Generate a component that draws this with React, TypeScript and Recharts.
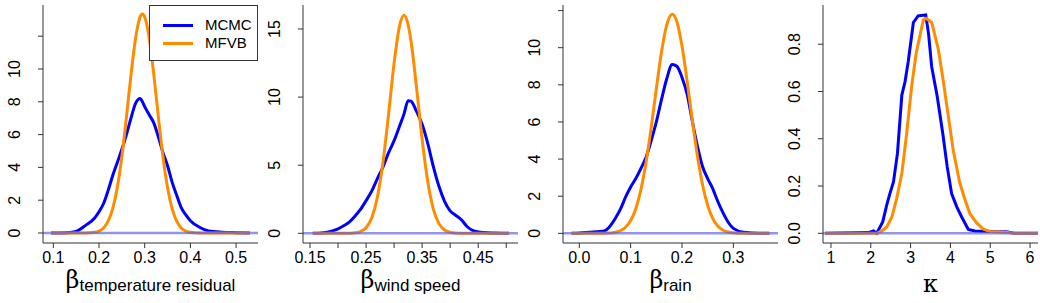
import { LineChart, Line, XAxis, YAxis, ReferenceLine } from 'recharts';

const SANS = '"Liberation Sans", Arial, Helvetica, sans-serif';
const SERIF = '"DejaVu Serif", "Liberation Serif", serif';
const BLUE = '#0000ff';
const ORANGE = '#ff8c00';
const AXIS = '#333333';

// beta temperature residual
const tempX = [0.095, 0.13, 0.15, 0.17, 0.19, 0.2, 0.21, 0.22, 0.23, 0.24, 0.25, 0.26, 0.27, 0.28, 0.29, 0.295, 0.3, 0.31, 0.32, 0.33, 0.34, 0.35, 0.36, 0.37, 0.38, 0.39, 0.4, 0.42, 0.44, 0.47, 0.5, 0.53];
const tempMcmc = [0, 0.02, 0.1, 0.45, 0.9, 1.3, 1.8, 2.6, 3.5, 4.3, 5.1, 6.0, 7.0, 7.9, 8.2, 8.0, 7.7, 7.2, 6.7, 5.85, 4.9, 4.1, 3.1, 2.3, 1.55, 1.1, 0.75, 0.35, 0.12, 0.05, 0.02, 0];
const tempMfvb = [0, 0, 0, 0, 0.04, 0.12, 0.31, 0.72, 1.48, 2.77, 4.65, 7.06, 9.64, 11.87, 13.18, 13.35, 13.18, 11.87, 9.64, 7.06, 4.65, 2.77, 1.48, 0.72, 0.31, 0.12, 0.04, 0, 0, 0, 0, 0];
const tempXTicks = [0.1, 0.2, 0.3, 0.4, 0.5];
const tempXLabels = ['0.1', '0.2', '0.3', '0.4', '0.5'];
const tempYTicks = [0, 2, 4, 6, 8, 10, 12];
const tempYLabels = ['0', '2', '4', '6', '8', '10', ''];

// beta wind speed
const windX = [0.155, 0.17, 0.19, 0.2, 0.21, 0.22, 0.23, 0.24, 0.25, 0.26, 0.27, 0.28, 0.29, 0.3, 0.31, 0.3176, 0.325, 0.33, 0.34, 0.35, 0.36, 0.37, 0.38, 0.39, 0.4, 0.41, 0.42, 0.43, 0.44, 0.46, 0.48, 0.505];
const windMcmc = [0, 0.03, 0.18, 0.33, 0.55, 0.82, 1.25, 1.75, 2.4, 3.1, 4.0, 4.85, 5.9, 6.8, 7.9, 8.75, 9.74, 9.7, 8.95, 8.0, 6.6, 4.9, 3.45, 2.35, 1.65, 1.32, 1.0, 0.5, 0.22, 0.06, 0.02, 0];
const windMfvb = [0, 0, 0, 0, 0, 0.01, 0.04, 0.13, 0.41, 1.12, 2.61, 5.16, 8.7, 12.49, 15.28, 16.0, 15.31, 14.15, 10.71, 6.91, 3.8, 1.78, 0.71, 0.24, 0.07, 0.02, 0, 0, 0, 0, 0, 0];
const windXTicks = [0.15, 0.2, 0.25, 0.3, 0.35, 0.4, 0.45, 0.5];
const windXLabels = ['0.15', '', '0.25', '', '0.35', '', '0.45', ''];
const windYTicks = [0, 5, 10, 15];
const windYLabels = ['0', '5', '10', '15'];

// beta rain
const rainX = [-0.015, 0, 0.02, 0.04, 0.05, 0.06, 0.07, 0.08, 0.09, 0.1, 0.11, 0.12, 0.13, 0.14, 0.15, 0.16, 0.17, 0.181, 0.19, 0.2, 0.21, 0.22, 0.23, 0.24, 0.25, 0.26, 0.27, 0.28, 0.29, 0.3, 0.32, 0.34, 0.37];
const rainMcmc = [0, 0.02, 0.06, 0.1, 0.15, 0.4, 0.8, 1.3, 1.95, 2.5, 2.95, 3.5, 4.1, 5.0, 6.0, 7.2, 8.3, 9.1, 9.0, 8.4, 7.5, 6.05, 4.7, 3.6, 2.95, 2.4, 1.7, 1.1, 0.6, 0.27, 0.06, 0.02, 0];
const rainMfvb = [0, 0, 0, 0, 0.01, 0.02, 0.06, 0.14, 0.33, 0.69, 1.33, 2.36, 3.83, 5.7, 7.79, 9.75, 11.2, 11.8, 11.4, 10.09, 8.2, 6.11, 4.18, 2.62, 1.51, 0.79, 0.38, 0.17, 0.07, 0.03, 0, 0, 0];
const rainXTicks = [0, 0.1, 0.2, 0.3];
const rainXLabels = ['0.0', '0.1', '0.2', '0.3'];
const rainYTicks = [0, 2, 4, 6, 8, 10, 12];
const rainYLabels = ['0', '2', '4', '6', '8', '10', ''];

// kappa
const kappaMcmcX = [0.85, 1.94, 2.07, 2.15, 2.3, 2.4, 2.48, 2.57, 2.67, 2.78, 2.86, 2.94, 3.07, 3.19, 3.38, 3.45, 3.53, 3.67, 3.81, 3.92, 4.03, 4.16, 4.28, 4.45, 4.62, 5.0, 5.4, 5.6, 6.2];
const kappaMcmc = [0, 0.003, 0.01, 0, 0.048, 0.119, 0.168, 0.217, 0.338, 0.585, 0.641, 0.726, 0.892, 0.92, 0.924, 0.846, 0.705, 0.578, 0.42, 0.281, 0.168, 0.112, 0.07, 0.016, 0.01, 0.008, 0.007, 0, 0];
const kappaMfvbX = [0.85, 2.15, 2.28, 2.4, 2.53, 2.65, 2.78, 2.9, 3.03, 3.14, 3.22, 3.32, 3.39, 3.53, 3.7, 3.83, 3.95, 4.07, 4.23, 4.37, 4.49, 4.66, 4.83, 5.0, 5.3, 5.6, 6.2];
const kappaMfvb = [0, 0, 0.01, 0.027, 0.069, 0.147, 0.253, 0.42, 0.627, 0.762, 0.825, 0.903, 0.91, 0.892, 0.776, 0.634, 0.493, 0.352, 0.217, 0.14, 0.083, 0.044, 0.017, 0.008, 0.006, 0, 0];
const kappaXTicks = [1, 2, 3, 4, 5, 6];
const kappaXLabels = ['1', '2', '3', '4', '5', '6'];
const kappaYTicks = [0, 0.2, 0.4, 0.6, 0.8];
const kappaYLabels = ['0.0', '0.2', '0.4', '0.6', '0.8'];

const seriesNames = ['MCMC', 'MFVB'];

const pairs = (xs: number[], ys: number[]) => xs.map((x, i) => ({ x, y: ys[i] }));

const labelFor = (ticks: number[], labels: string[]) => (v: number) => {
  const i = ticks.findIndex((t) => Math.abs(t - v) < 1e-9);
  return i >= 0 ? labels[i] : '';
};

const panels = [
  {
    key: 'temp', greek: 'β', sub: 'temperature residual', smooth: true,
    mcmc: pairs(tempX, tempMcmc), mfvb: pairs(tempX, tempMfvb),
    xDomain: [0.0774, 0.548], xTicks: tempXTicks, xLabels: tempXLabels,
    yDomain: [-0.61, 13.9], yTicks: tempYTicks, yLabels: tempYLabels,
  },
  {
    key: 'wind', greek: 'β', sub: 'wind speed', smooth: true,
    mcmc: pairs(windX, windMcmc), mfvb: pairs(windX, windMfvb),
    xDomain: [0.1375, 0.521], xTicks: windXTicks, xLabels: windXLabels,
    yDomain: [-0.71, 16.76], yTicks: windYTicks, yLabels: windYLabels,
  },
  {
    key: 'rain', greek: 'β', sub: 'rain', smooth: true,
    mcmc: pairs(rainX, rainMcmc), mfvb: pairs(rainX, rainMfvb),
    xDomain: [-0.0318, 0.387], xTicks: rainXTicks, xLabels: rainXLabels,
    yDomain: [-0.52, 12.3], yTicks: rainYTicks, yLabels: rainYLabels,
  },
  {
    key: 'kappa', greek: 'κ', sub: '', smooth: false,
    mcmc: pairs(kappaMcmcX, kappaMcmc), mfvb: pairs(kappaMfvbX, kappaMfvb),
    xDomain: [0.8, 6.2], xTicks: kappaXTicks, xLabels: kappaXLabels,
    yDomain: [-0.041, 0.966], yTicks: kappaYTicks, yLabels: kappaYLabels,
  },
];

const W = 260;
const H = 303;

function YTickLabel(props: any) {
  const { y, payload, fmt } = props;
  return (
    <text
      x={15}
      y={y}
      transform={`rotate(-90 15 ${y})`}
      textAnchor="middle"
      dominantBaseline="central"
      fontSize={16}
      fontFamily={SANS}
      fill="#000"
    >
      {fmt(payload.value)}
    </text>
  );
}

function Panel({ p, showLegend }: { p: (typeof panels)[number]; showLegend: boolean }) {
  const yFmt = labelFor(p.yTicks, p.yLabels);
  const xFmt = labelFor(p.xTicks, p.xLabels);
  const curve = p.smooth ? 'monotone' : 'linear';
  return (
    <div style={{ position: 'relative', width: W, height: H }}>
      <LineChart width={W} height={H} margin={{ top: 5, right: 2, bottom: 15, left: 0 }}>
        <XAxis
          dataKey="x"
          type="number"
          domain={p.xDomain}
          allowDataOverflow
          ticks={p.xTicks}
          tickFormatter={xFmt}
          height={45}
          tickSize={5}
          tickMargin={4}
          interval={0}
          stroke={AXIS}
          tick={{ fontSize: 16, fill: '#000', fontFamily: SANS }}
        />
        <YAxis
          type="number"
          domain={p.yDomain}
          allowDataOverflow
          ticks={p.yTicks}
          width={43}
          tickSize={5}
          interval={0}
          stroke={AXIS}
          tick={(tp: any) => <YTickLabel {...tp} fmt={yFmt} />}
        />
        <Line data={p.mcmc} dataKey="y" type={curve} stroke={BLUE} strokeWidth={3} dot={false} isAnimationActive={false} name={seriesNames[0]} />
        <Line data={p.mfvb} dataKey="y" type={curve} stroke={ORANGE} strokeWidth={3} dot={false} isAnimationActive={false} name={seriesNames[1]} />
        <ReferenceLine y={0} stroke="#5a5ae6" strokeOpacity={0.65} strokeWidth={2.5} />
      </LineChart>
      <svg width={W} height={H} style={{ position: 'absolute', left: 0, top: 0, pointerEvents: 'none' }}>
        {p.sub ? (
          <text x={150.5} y={288} textAnchor="middle" fill="#000">
            <tspan fontFamily={SERIF} fontSize={24}>{p.greek}</tspan>
            <tspan fontFamily={SANS} fontSize={17} dy={3}>{p.sub}</tspan>
          </text>
        ) : (
          <text x={150.5} y={292} textAnchor="middle" fill="#000" fontFamily={SERIF} fontSize={24}>
            {p.greek}
          </text>
        )}
      </svg>
      {showLegend && (
        <div
          style={{
            position: 'absolute', left: 149, top: 5, width: 107, height: 54,
            border: `1px solid ${AXIS}`, background: '#fff', fontFamily: SANS, fontSize: 15,
          }}
        >
          {seriesNames.map((n, i) => (
            <div key={n} style={{ position: 'absolute', left: 13, top: 10 + i * 18, height: 18, display: 'flex', alignItems: 'center' }}>
              <span style={{ display: 'inline-block', width: 30, height: 3, background: i === 0 ? BLUE : ORANGE }} />
              <span style={{ marginLeft: 12, lineHeight: '18px' }}>{n}</span>
            </div>
          ))}
        </div>
      )}
    </div>
  );
}

export default function App() {
  return (
    <div style={{ position: 'absolute', left: 0, top: 0, width: 1040, height: 303, background: '#fff', display: 'flex' }}>
      {panels.map((p, i) => (
        <Panel key={p.key} p={p} showLegend={i === 0} />
      ))}
    </div>
  );
}
